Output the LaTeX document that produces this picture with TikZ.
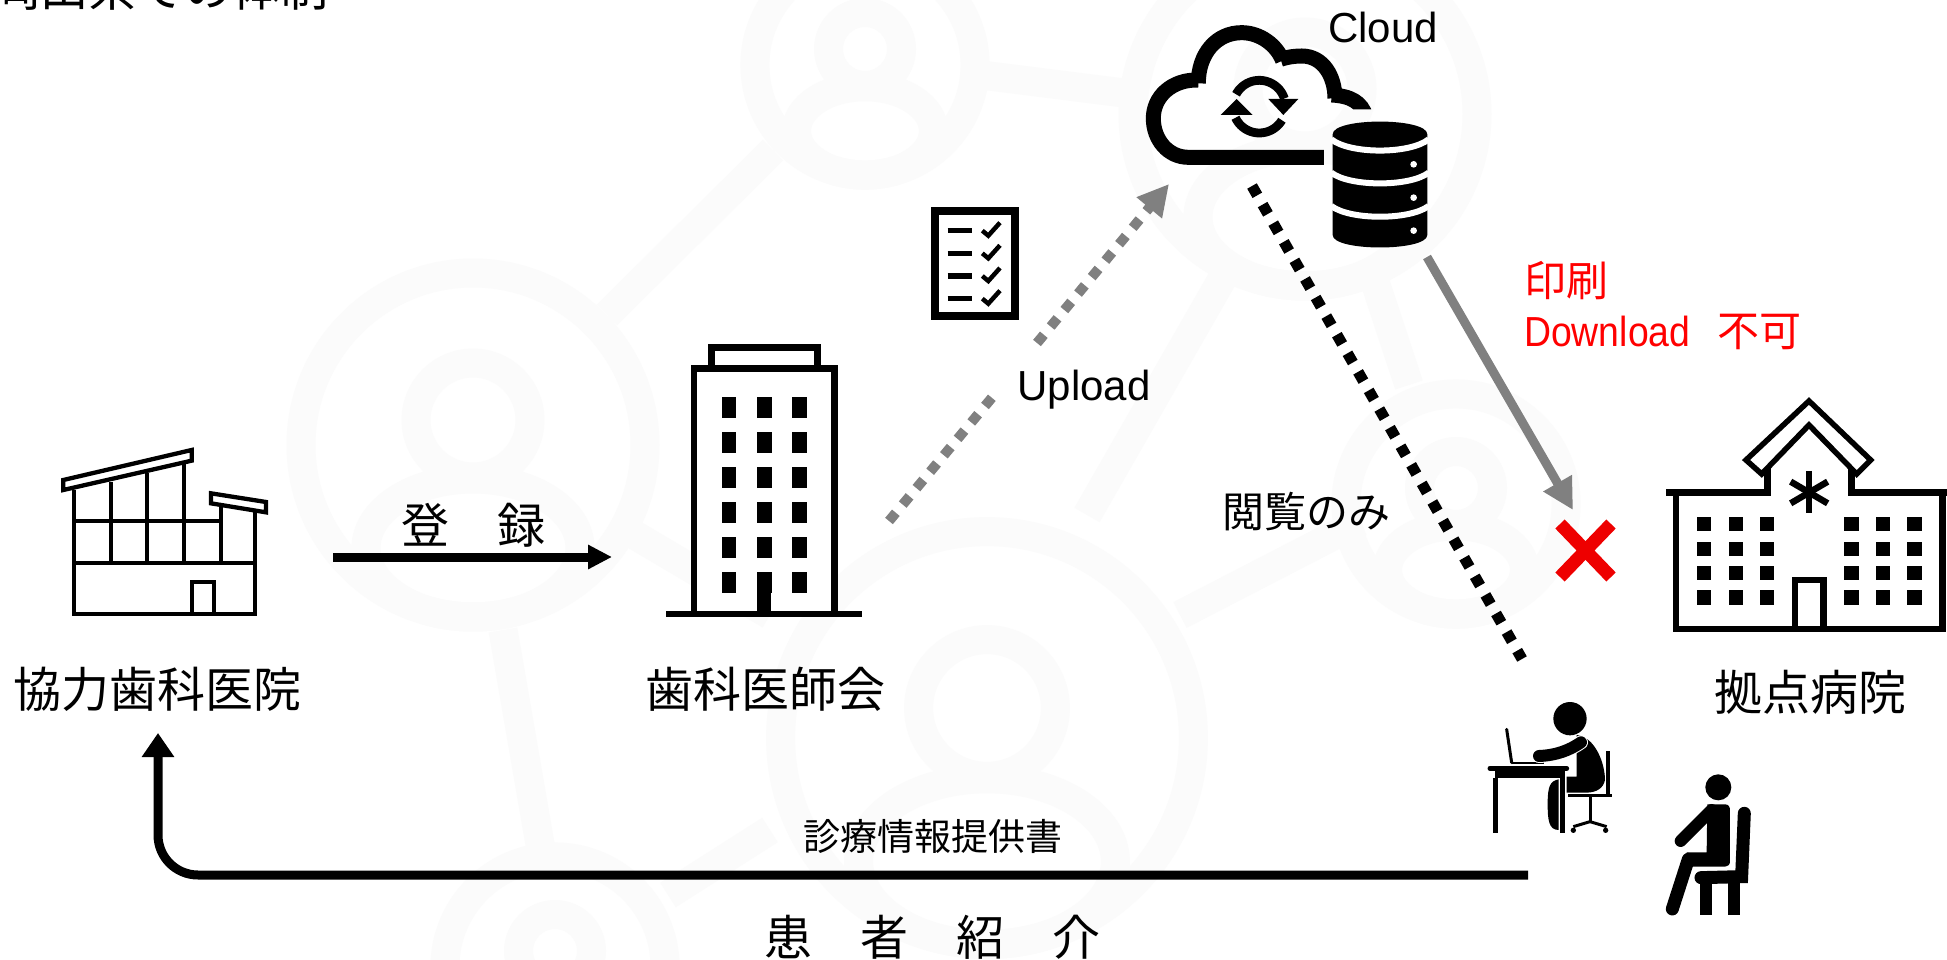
\documentclass[tikz,border=0pt]{standalone}
\usepackage{fontspec}
\usepackage{graphicx}
\usepackage{xcolor}
\usepackage{tikz}
\usetikzlibrary{positioning,arrows.meta}
\setmainfont{Liberation Sans}
\newfontfamily\cjk{Noto Sans CJK JP}
\definecolor{markgray}{RGB}{251,251,251}
\definecolor{arrowgray}{RGB}{128,128,128}
\definecolor{crossred}{RGB}{238,0,0}
\tikzset{
  zoomed/.style={scale=0.3333},
  bigtext/.style={font=\cjk\fontsize{48}{48}\selectfont, inner sep=0pt},
  midtext/.style={font=\cjk\fontsize{42}{42}\selectfont, inner sep=0pt},
  smalltext/.style={font=\cjk\fontsize{37}{37}\selectfont, inner sep=0pt},
  latintext/.style={font=\fontsize{42}{42}\selectfont, inner sep=0pt},
  markline/.style={draw=markgray, line width=29pt},
  blackarrow/.style={line width=9pt, -{Triangle[length=24pt,width=#1]}},
  grayarrow/.style={draw=arrowgray, line width=9pt, -{Triangle[length=31pt,width=31pt]}},
  dotgray/.style={draw=arrowgray, line width=10pt, dash pattern=on 10.7pt off 10.7pt},
  dotline/.style={line width=11pt, dash pattern=on 10.7pt off 10.7pt}
}
\newcommand{\markperson}[3]{
  \begin{scope}[shift={(#1,#2)},scale=#3]
    \draw[markline] (0,0) circle[radius=172];
    \draw[markline] (0,-25) circle[radius=57];
    \draw[markline] (0,103) ellipse[x radius=107,y radius=69];
  \end{scope}
}
\begin{document}
\begin{tikzpicture}[x=1pt,y=-1pt]
\useasboundingbox (0,0) rectangle (1947,960);
\fill[white] (0,0) rectangle (1947,960);

% background mark
\draw[markline] (607,315) -- (773,150);
\draw[markline] (981,75) -- (1124,93);
\draw[markline] (633,534) -- (770,615);
\draw[markline] (503,630) -- (541,850);
\draw[markline] (1229,267) -- (1087,515);
\draw[markline] (1372,273) -- (1409,385);
\draw[markline] (1180,615) -- (1360,522);
\draw[markline] (668,895) -- (770,830);
\markperson{473}{445}{1}
\markperson{865}{65}{0.64}
\markperson{1305}{114}{1}
\markperson{987}{738}{1.2}
\markperson{1456}{504}{0.64}
\markperson{555}{967}{0.64}

% clinic
\begin{scope}[shift={(50,440)},zoomed,line width=4.3pt]
\fill[white] (71,150) rectangle (615,523);
\draw (71,150) -- (71,523) -- (615,523) -- (615,210);
\foreach \px/\py in {182/125,292/100,402/70,513/200} \draw (\px,\py) -- (\px,365);
\draw (71,242) -- (513,242);
\draw (71,368) -- (615,368);
\draw (425,523) -- (425,427) -- (492,427) -- (492,523);
\draw[fill=white] (40,120) -- (425,30) -- (425,62) -- (40,150) -- cycle;
\draw[fill=white] (483,160) -- (648,186) -- (648,217) -- (483,190) -- cycle;
\end{scope}

% dental association
\begin{scope}[shift={(660,190)},zoomed,line width=6.5pt]
\draw[fill=white] (102,1272) -- (102,536) -- (523,536) -- (523,1272);
\draw (155,530) -- (155,473) -- (472,473) -- (472,530);
\draw (18,1272) -- (607,1272);
\foreach \wx in {186,292,397} \foreach \wy in {621,726,831,936,1041,1146} \fill (\wx,\wy) rectangle ++(43,63);
\fill (292,1146) rectangle (334,1272);
\end{scope}

% checklist
\begin{scope}[shift={(660,190)},zoomed]
\draw[line width=8pt] (824,62) rectangle (1065,378);
\foreach \ly in {122,190,258,326} {
  \draw[line width=5.5pt] (863,\ly) -- (937,\ly);
  \draw[line width=4.5pt] (967,\ly) -- (985,\ly+15) -- (1020,\ly-24);
}
\end{scope}

% cloud
\begin{scope}[shift={(1130,0)},zoomed]
\begin{scope}
\clip (0,0) -- (800,0) -- (800,328) -- (582,328) -- (582,520) -- (0,520) -- cycle;
\draw[line width=15pt] (600,472) -- (175,472) .. controls (115,472) and (70,420) .. (70,355) .. controls (70,290) and (125,238) .. (205,240);
\draw[line width=15pt] (205,250) .. controls (205,160) and (260,98) .. (335,98) .. controls (390,98) and (440,135) .. (458,182);
\draw[line width=15pt] (452,178) .. controls (475,170) and (500,168) .. (515,168) .. controls (580,168) and (615,230) .. (615,295);
\draw[line width=15pt] (605,285) .. controls (660,288) and (695,305) .. (708,350);
\end{scope}
\draw[line width=8.8pt] plot[domain=152:18,samples=25] ({388+79*cos(\x)},{320-79*sin(\x)});
\draw[line width=8.8pt] plot[domain=205:329,samples=25] ({388+79*cos(\x)},{320-79*sin(\x)});
\fill (415,297) -- (505,297) -- (460,345) -- cycle;
\fill (272,345) -- (368,345) -- (320,297) -- cycle;
\fill (608,403) .. controls (608,352) and (892,352) .. (892,403) -- (892,705) .. controls (892,755) and (608,755) .. (608,705) -- cycle;
\foreach \sy/\cy in {418/463,518/561,618/661} \draw[white,line width=6pt] (604,\sy) .. controls (660,\cy) and (840,\cy) .. (896,\sy);
\foreach \dy in {493,593,692} \fill[white] (851,\dy) circle[radius=10];
\end{scope}

% hospital
\begin{scope}[shift={(1660,390)},zoomed,line width=6.5pt]
\draw (48,308) -- (48,717) -- (848,717) -- (848,308);
\draw (18,308) -- (322,308) -- (322,235);
\draw (880,308) -- (574,308) -- (574,235);
\draw[line width=5.5pt,fill=white] (258,210) -- (447,33) -- (632,210) -- (590,252) -- (447,105) -- (305,252) -- cycle;
\draw (405,717) -- (405,570) -- (490,570) -- (490,717);
\draw (447,243) -- (447,370);
\draw (392,275) -- (503,340);
\draw (392,340) -- (503,275);
\foreach \wx in {111,206,300,553,648,742} \foreach \wy in {381,455,528,601} \fill (\wx,\wy) rectangle ++(43,43);
\end{scope}

% staff and patient
\begin{scope}[shift={(1470,680)},zoomed]
\fill (300,116) circle[radius=50];
\draw[line width=3pt,line cap=round] (110,148) -- (125,248);
\draw[line width=2pt] (125,250) -- (222,250);
\draw[line width=5pt,line cap=round] (60,265) -- (290,265);
\fill (75,265) rectangle (285,293);
\fill (70,293) rectangle (84,458);
\fill (270,293) rectangle (284,458);
\fill (266,298) .. controls (240,303) and (233,320) .. (233,370) .. controls (233,420) and (236,450) .. (266,450) -- cycle;
\fill (320,165) .. controls (375,170) and (405,250) .. (405,300) .. controls (400,325) and (380,337) .. (350,338) -- (290,338) -- (290,290) -- (320,290) -- cycle;
\draw[white,line width=14pt,line cap=round] (207,228) .. controls (260,226) and (300,210) .. (333,187);
\draw[line width=12pt,line cap=round] (207,228) .. controls (260,226) and (300,210) .. (333,187);
\fill (408,212) rectangle (421,345);
\draw[line width=3pt] (295,346) -- (425,346);
\draw[line width=3pt] (360,346) -- (360,425);
\draw[line width=3pt] (310,440) -- (360,425) -- (410,440);
\fill (310,451) circle[radius=8];
\fill (407,451) circle[radius=8];
\fill (745,322) circle[radius=39];
\fill (712,373) -- (765,373) .. controls (775,373) and (780,380) .. (780,390) -- (780,545) .. controls (780,555) and (772,560) .. (765,560) -- (650,560) -- (650,517) -- (710,517) -- cycle;
\draw[line width=12pt,line cap=round] (725,390) -- (632,483);
\draw[line width=13pt,line cap=round] (655,538) -- (607,687);
\draw[line width=13pt,line cap=round] (823,400) -- (815,590) -- (693,593);
\fill (690,605) rectangle (725,705);
\fill (775,605) rectangle (810,705);
\end{scope}

% cross
\draw[crossred,line width=13pt] (1560,524) -- (1611,577);
\draw[crossred,line width=13pt] (1611,524) -- (1560,577);

% labels
\node[bigtext] (topnote) at (161,-12) {岡山県での体制};
\node[bigtext] (clinicname) at (157,689) {協力歯科医院};
\node[bigtext] (assocname) at (765,689) {歯科医師会};
\node[bigtext] (hospname) at (1810,692) {拠点病院};
\node[bigtext] (entrylabel) at (473,525) {登　録};
\node[bigtext] (referlabel) at (932,937) {患　者　紹　介};
\node[smalltext] (letterlabel) at (933,836) {診療情報提供書};
\node[midtext] (viewlabel) at (1306,512) {閲覧のみ};
\node[midtext, red, anchor=west] (printlabel) at (1524,281) {印刷};
\node[latintext, red, anchor=west] (dllabel) at (1524,332) {\scalebox{0.89}[1]{Download}\hspace{0.65em}{\cjk 不可}};
\node[latintext] (cloudlabel) at (1383,27) {Cloud};
\node[latintext] (uploadlabel) at (1084,390) {Upload};

% connectors
\coordinate (clinicout) at (333,557);
\coordinate (associn) at (612,557);
\coordinate (assocout) at (889,521);
\coordinate (gapstart) at (995,394);
\coordinate (gapend) at (1037,343);
\coordinate (cloudin) at (1169,184);
\coordinate (cloudout) at (1252,186);
\coordinate (staffin) at (1522,659);
\coordinate (dbout) at (1427,257);
\coordinate (crossin) at (1573,510);
\coordinate (staffout) at (1528,875);
\coordinate (clinicin) at (158,733);

\draw[blackarrow=23pt] (clinicout) -- (associn);
\draw[blackarrow=31pt, rounded corners=40pt] (staffout) -- (clinicin |- staffout) -- (clinicin);
\draw[dotline] (cloudout) -- (staffin);
\draw[grayarrow] (dbout) -- (crossin);
\draw[dotgray] (assocout) -- (gapstart);
\draw[dotgray, -{Triangle[length=31pt,width=31pt]}] (gapend) -- (cloudin);
\end{tikzpicture}
\end{document}
